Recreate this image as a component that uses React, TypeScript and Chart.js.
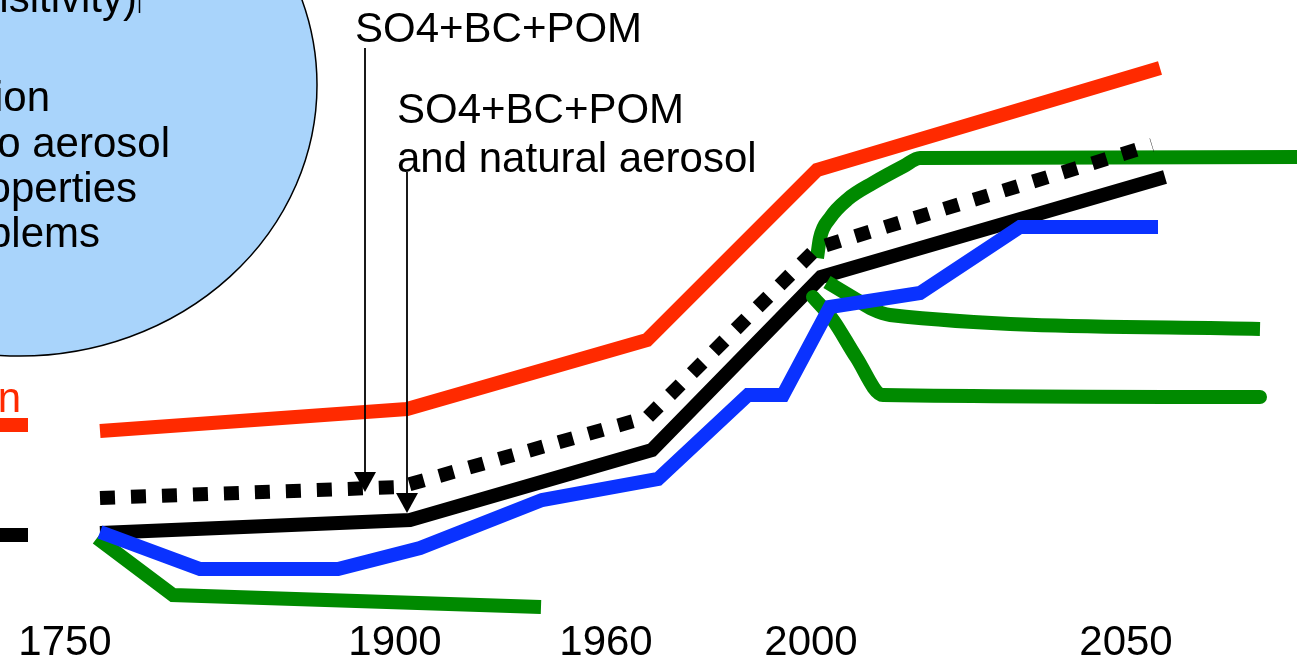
import React, { useEffect, useRef } from "react";
import { Chart, registerables } from "chart.js";

Chart.register(...registerables);

// Schematic time axis (non-linear in years): tick positions and labels
const yearLabels = ["1750", "1900", "1960", "2000", "2050"];
const yearTickPos = [6.5, 39.5, 60.6, 81.1, 112.6];

// Red: greenhouse-gas-like forcing curve
const redX = [10.0, 40.7, 64.7, 81.7, 116.0];
const redY = [23.6, 25.8, 32.7, 49.7, 59.9];

// Black dotted: SO4+BC+POM and natural aerosol
const dotX = [10.0, 40.0, 64.8, 81.7, 115.2];
const dotY = [16.9, 18.0, 25.0, 41.9, 52.2];

// Black solid: SO4+BC+POM
const blackX = [10.0, 41.0, 65.2, 82.1, 116.5];
const blackY = [13.4, 14.7, 21.7, 39.0, 49.0];

// Blue
const blueX = [10.0, 20.0, 33.8, 42.0, 54.2, 65.8, 74.8, 78.3, 83.0, 92.0, 102.0, 115.8];
const blueY = [13.5, 9.8, 9.8, 11.9, 16.7, 18.8, 27.2, 27.2, 36.0, 37.4, 44.0, 44.0];

// Green: past
const green1X = [9.7, 17.3, 54.1];
const green1Y = [12.9, 7.2, 6.0];

// Green: future scenarios
const green2X = [81.7, 82.0, 83.0, 84.8, 87.3, 90.4, 92.0, 129.7];
const green2Y = [40.9, 42.9, 44.9, 46.8, 48.4, 50.1, 50.9, 51.0];

const green3X = [82.7, 85.7, 87.2, 89.0, 126.0];
const green3Y = [38.5, 36.7, 35.8, 35.2, 33.8];

const green4X = [81.3, 83.3, 85.6, 88.3, 126.0];
const green4Y = [37.0, 34.7, 31.0, 27.2, 27.0];

const pts = (xs: number[], ys: number[]) => xs.map((x, i) => ({ x, y: ys[i] }));

const FONT = '42px "Liberation Sans", Arial, Helvetica, sans-serif';

const decorPlugin = {
  id: "decor",
  beforeDatasetsDraw(chart: any) {
    const { ctx, scales } = chart;
    const px = (v: number) => scales.x.getPixelForValue(v);
    const py = (v: number) => scales.y.getPixelForValue(v);
    ctx.save();
    // ellipse bubble
    const cx = px(2.0), cy = py(58.2);
    const rx = px(2.0 + 29.7) - cx;
    const ry = py(58.2 - 27.1) - cy;
    ctx.beginPath();
    ctx.ellipse(cx, cy, rx, ry, 0, 0, Math.PI * 2);
    ctx.fillStyle = "#a9d4fb";
    ctx.fill();
    ctx.lineWidth = 1.5;
    ctx.strokeStyle = "#000";
    ctx.stroke();

    ctx.font = FONT;
    ctx.fillStyle = "#000";
    ctx.textAlign = "right";
    ctx.textBaseline = "alphabetic";
    const bubbleText: [string, number, number][] = [
      ["nsitivity)", 13.7, 65.5],
      ["ion", 5.0, 55.6],
      ["o aerosol", 17.0, 51.0],
      ["operties", 13.7, 46.5],
      ["blems", 10.0, 42.0],
    ];
    bubbleText.forEach(([t, x, y]) => ctx.fillText(t, px(x), py(y)));
    ctx.beginPath();
    ctx.lineWidth = 1.5;
    ctx.moveTo(px(13.95), py(66.7));
    ctx.lineTo(px(13.95), py(65.4));
    ctx.stroke();

    // left legend fragments
    ctx.fillStyle = "#ff2a00";
    ctx.fillText("n", px(2.1), py(25.5));
    ctx.lineWidth = 14;
    ctx.lineCap = "butt";
    ctx.strokeStyle = "#ff2a00";
    ctx.beginPath();
    ctx.moveTo(px(0), py(24.2));
    ctx.lineTo(px(2.8), py(24.2));
    ctx.stroke();
    ctx.strokeStyle = "#000";
    ctx.beginPath();
    ctx.moveTo(px(0), py(13.2));
    ctx.lineTo(px(2.8), py(13.2));
    ctx.stroke();
    ctx.restore();
  },
  afterDatasetsDraw(chart: any) {
    const { ctx, scales } = chart;
    const px = (v: number) => scales.x.getPixelForValue(v);
    const py = (v: number) => scales.y.getPixelForValue(v);
    ctx.save();
    ctx.font = FONT;
    ctx.fillStyle = "#000";
    ctx.textAlign = "left";
    ctx.textBaseline = "alphabetic";
    ctx.fillText("SO4+BC+POM", px(35.5), py(62.5));
    ctx.fillText("SO4+BC+POM", px(39.7), py(54.4));
    ctx.fillText("and natural aerosol", px(39.7), py(49.5));

    const arrow = (x: number, y0: number, y1: number) => {
      const X = px(x), Y0 = py(y0), Y1 = py(y1);
      ctx.beginPath();
      ctx.lineWidth = 1.8;
      ctx.strokeStyle = "#000";
      ctx.moveTo(X, Y0);
      ctx.lineTo(X, Y1 - 18);
      ctx.stroke();
      ctx.beginPath();
      ctx.moveTo(X - 11, Y1 - 20);
      ctx.lineTo(X + 11, Y1 - 20);
      ctx.lineTo(X, Y1);
      ctx.closePath();
      ctx.fill();
    };
    arrow(36.5, 61.9, 17.5);
    arrow(40.7, 49.5, 15.4);

    ctx.textAlign = "center";
    yearLabels.forEach((lab, i) => ctx.fillText(lab, px(yearTickPos[i]), py(1.2)));
    ctx.restore();
  },
};

export default function App() {
  const ref = useRef<HTMLCanvasElement>(null);
  useEffect(() => {
    if (!ref.current) return;
    const base = {
      pointRadius: 0,
      pointHoverRadius: 0,
      fill: false,
      tension: 0,
      borderWidth: 14,
      borderJoinStyle: "miter" as const,
      borderCapStyle: "butt" as const,
    };
    const GREEN = "#008a00";
    const chart = new Chart(ref.current, {
      type: "line",
      data: {
        datasets: [
          { ...base, label: "SO4+BC+POM and natural aerosol", data: pts(dotX, dotY), borderColor: "#000", borderDash: [15, 16], order: 1 },
          { ...base, label: "Red", data: pts(redX, redY), borderColor: "#ff2a00", order: 2 },
          { ...base, label: "Blue", data: pts(blueX, blueY), borderColor: "#0a32ff", order: 3 },
          { ...base, label: "Green past", data: pts(green1X, green1Y), borderColor: GREEN, order: 4 },
          { ...base, label: "Green high", data: pts(green2X, green2Y), borderColor: GREEN, cubicInterpolationMode: "monotone" as const, order: 4 },
          { ...base, label: "Green mid", data: pts(green3X, green3Y), borderColor: GREEN, cubicInterpolationMode: "monotone" as const, order: 4 },
          { ...base, label: "Green low", data: pts(green4X, green4Y), borderColor: GREEN, cubicInterpolationMode: "monotone" as const, borderCapStyle: "round" as const, order: 4 },
          { ...base, label: "SO4+BC+POM", data: pts(blackX, blackY), borderColor: "#000", order: 5 },
        ],
      },
      options: {
        responsive: false,
        maintainAspectRatio: false,
        devicePixelRatio: 1,
        animation: false,
        layout: { padding: 0 },
        events: [],
        scales: {
          x: { type: "linear", min: 0, max: 130.5, display: false },
          y: { type: "linear", min: 0, max: 66.7, display: false },
        },
        plugins: {
          legend: { display: false },
          tooltip: { enabled: false },
        },
      },
      plugins: [decorPlugin],
    });
    return () => chart.destroy();
  }, []);
  return (
    <div style={{ position: "fixed", left: 0, top: 0, width: 1305, height: 667, background: "#fff" }}>
      <canvas ref={ref} width={1305} height={667} style={{ display: "block", width: 1305, height: 667 }} />
    </div>
  );
}
